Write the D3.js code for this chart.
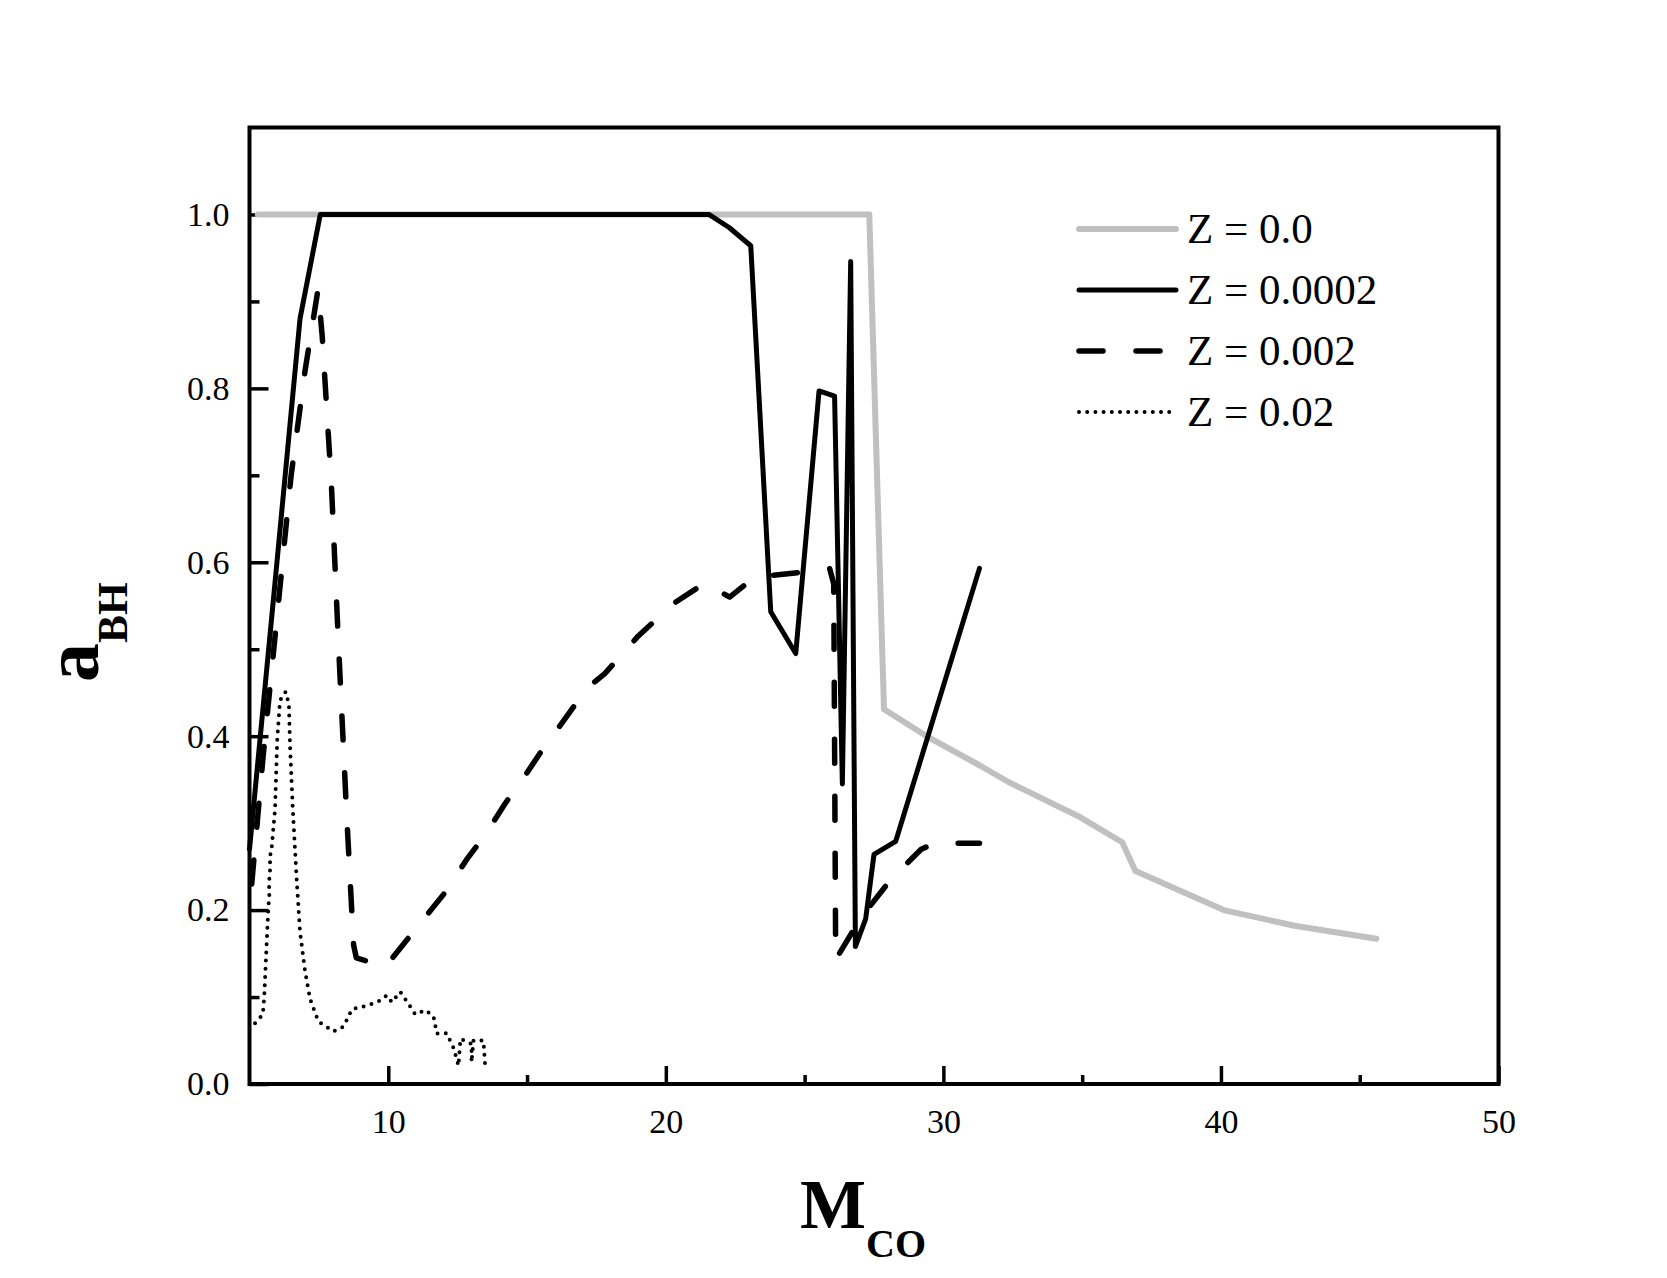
<!DOCTYPE html>
<html lang="en">
<head>
  <meta charset="UTF-8">
  <title>a_BH vs M_CO</title>
  <script src="https://d3js.org/d3.v7.min.js"></script>
  <style>
    body {
      margin: 0;
      background: #fff;
    }
    svg {
      display: block;
      font-family: "Liberation Serif", "Times New Roman", serif;
    }
    .tick text {
      font-family: "Liberation Serif", "Times New Roman", serif;
      font-size: 34px;
      fill: #000;
    }
    .tick line {
      stroke: #000;
      stroke-width: 3.5;
    }
  </style>
</head>
<body>
<svg></svg>
<script>
  // Data: [M_CO, a_BH]
  const seriesZ0 = [
    [5.3, 1.0], [27.33, 1.0], [27.86, 0.431], [29.5, 0.398], [31.33, 0.366],
    [32.36, 0.347], [34.92, 0.307], [36.44, 0.278], [36.92, 0.245],
    [40.1, 0.200], [42.65, 0.182], [45.6, 0.167]
  ];
  const seriesZ0002 = [
    [5.0, 0.27], [5.9, 0.57], [6.82, 0.88], [7.55, 1.0], [21.55, 1.0],
    [22.28, 0.985], [23.06, 0.964], [23.78, 0.543], [24.68, 0.495],
    [25.52, 0.797], [26.08, 0.791], [26.36, 0.345], [26.66, 0.946],
    [26.83, 0.158], [27.2, 0.19], [27.5, 0.264], [28.28, 0.279], [31.3, 0.593]
  ];
  const seriesZ002 = [
    [5.08, 0.23], [5.5, 0.38], [6.0, 0.54], [6.5, 0.70], [7.0, 0.82],
    [7.25, 0.87], [7.47, 0.914], [7.62, 0.86], [7.95, 0.69], [8.2, 0.51],
    [8.5, 0.31], [8.75, 0.16], [8.85, 0.145], [9.9, 0.135], [10.4, 0.155],
    [11.26, 0.189], [12.04, 0.22], [12.82, 0.258], [13.48, 0.286],
    [14.2, 0.322], [14.87, 0.352], [15.65, 0.389], [16.3, 0.417],
    [17.15, 0.455], [17.8, 0.472], [19.0, 0.515], [20.3, 0.553],
    [21.4, 0.576], [22.3, 0.56], [23.2, 0.583], [25.4, 0.59], [25.9, 0.593],
    [26.05, 0.575], [26.12, 0.143], [27.0, 0.19], [28.1, 0.235],
    [29.2, 0.27], [29.7, 0.277], [31.3, 0.277]
  ];
  const seriesZ02 = [
    [5.2, 0.07], [5.48, 0.08], [5.53, 0.10], [5.62, 0.163], [5.68, 0.203],
    [5.72, 0.22], [5.70, 0.23], [5.75, 0.25], [5.73, 0.26], [5.8, 0.272],
    [5.92, 0.316], [6.0, 0.397], [6.1, 0.441], [6.3, 0.451], [6.42, 0.437],
    [6.46, 0.389], [6.56, 0.316], [6.7, 0.235], [6.82, 0.175], [7.0, 0.130],
    [7.18, 0.098], [7.48, 0.072], [8.03, 0.0605], [8.39, 0.066],
    [8.69, 0.086], [9.23, 0.090], [9.65, 0.095], [9.95, 0.102],
    [10.13, 0.094], [10.43, 0.106], [10.73, 0.092], [10.97, 0.080],
    [11.33, 0.085], [11.63, 0.078], [11.75, 0.058], [12.1, 0.0585],
    [12.35, 0.0416], [12.53, 0.021], [12.6, 0.052], [13.0, 0.046],
    [13.0, 0.025], [13.07, 0.050], [13.43, 0.050], [13.49, 0.021]
  ];

  const seriesLabels = ["Z = 0.0", "Z = 0.0002", "Z = 0.002", "Z = 0.02"];
  const xMajorTicks = [10, 20, 30, 40, 50];
  const xMinorTicks = [15, 25, 35, 45];
  const yMajorTicks = [0.0, 0.2, 0.4, 0.6, 0.8, 1.0];
  const yMinorTicks = [0.1, 0.3, 0.5, 0.7, 0.9];

  const width = 1667, height = 1278;
  const margin = {left: 249.5, right: width - 1498.5, top: 127.5, bottom: height - 1084};

  const svg = d3.select("svg").attr("width", width).attr("height", height);

  const x = d3.scaleLinear().domain([5, 50]).range([margin.left, width - margin.right]);
  const y = d3.scaleLinear().domain([0, 1.1]).range([height - margin.bottom, margin.top]);

  // Styles for each series (same order as labels)
  const styles = [
    {data: seriesZ0, stroke: "#c0c0c0", width: 6, dash: null},
    {data: seriesZ0002, stroke: "#000", width: 5, dash: null},
    {data: seriesZ002, stroke: "#000", width: 5.5, dash: "24,33"},
    {data: seriesZ02, stroke: "#000", width: 4, dash: "0,8.2"}
  ];

  // Axes with inward ticks
  const gx = svg.append("g")
    .attr("transform", `translate(0,${y(0)})`)
    .call(d3.axisBottom(x).tickValues(xMajorTicks).tickFormat(d3.format("d"))
      .tickSizeInner(-18).tickSizeOuter(0).tickPadding(25));
  gx.select(".domain").remove();

  const gxm = svg.append("g")
    .attr("transform", `translate(0,${y(0)})`)
    .call(d3.axisBottom(x).tickValues(xMinorTicks).tickFormat("")
      .tickSizeInner(-9).tickSizeOuter(0));
  gxm.select(".domain").remove();

  const gy = svg.append("g")
    .attr("transform", `translate(${x(5)},0)`)
    .call(d3.axisLeft(y).tickValues(yMajorTicks).tickFormat(d3.format(".1f"))
      .tickSizeInner(-19).tickSizeOuter(0).tickPadding(20));
  gy.select(".domain").remove();

  const gym = svg.append("g")
    .attr("transform", `translate(${x(5)},0)`)
    .call(d3.axisLeft(y).tickValues(yMinorTicks).tickFormat("")
      .tickSizeInner(-10).tickSizeOuter(0));
  gym.select(".domain").remove();

  [gx, gxm, gy, gym].forEach(g => g.attr("font-family", null).attr("font-size", null));

  // Lines
  const line = d3.line().x(d => x(d[0])).y(d => y(d[1]));

  const order = [0, 3, 2, 1];
  order.forEach(i => {
    const s = styles[i];
    svg.append("path")
      .datum(s.data)
      .attr("fill", "none")
      .attr("stroke", s.stroke)
      .attr("stroke-width", s.width)
      .attr("stroke-linejoin", "round")
      .attr("stroke-linecap", "round")
      .attr("stroke-dasharray", s.dash)
      .attr("d", line);
  });

  // Frame
  svg.append("rect")
    .attr("x", x(5)).attr("y", y(1.1))
    .attr("width", x(50) - x(5)).attr("height", y(0) - y(1.1))
    .attr("fill", "none").attr("stroke", "#000").attr("stroke-width", 4);

  // Legend
  const legend = svg.append("g");
  const rowY = [229, 290, 351, 412];
  styles.forEach((s, i) => {
    legend.append("line")
      .attr("x1", 1079).attr("x2", 1176)
      .attr("y1", rowY[i]).attr("y2", rowY[i])
      .attr("stroke", s.stroke)
      .attr("stroke-width", s.width)
      .attr("stroke-linecap", "round")
      .attr("stroke-dasharray", s.dash);
    legend.append("text")
      .attr("x", 1187).attr("y", rowY[i] + 14)
      .attr("font-size", 43)
      .text(seriesLabels[i]);
  });

  // Axis titles
  const xt = svg.append("text")
    .attr("x", 800).attr("y", 1228)
    .attr("font-weight", "bold");
  xt.append("tspan").attr("font-size", 70).text("M");
  xt.append("tspan").attr("font-size", 40).attr("dy", 29).text("CO");

  const yt = svg.append("text")
    .attr("transform", "translate(98,682) rotate(-90)")
    .attr("font-weight", "bold");
  yt.append("tspan").attr("font-size", 78).text("a");
  yt.append("tspan").attr("font-size", 42).attr("dy", 29).text("BH");
</script>
</body>
</html>
